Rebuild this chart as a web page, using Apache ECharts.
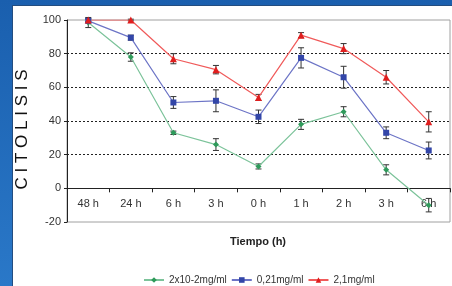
<!DOCTYPE html>
<html>
<head>
<meta charset="utf-8">
<script src="https://cdn.jsdelivr.net/npm/echarts@6/dist/echarts.min.js"></script>
<style>
  html, body { margin: 0; padding: 0; }
  body {
    width: 452px; height: 286px; overflow: hidden; position: relative;
    background: linear-gradient(180deg, #1a5fae 0%, #2a78c8 100%);
  }
  .panel {
    position: absolute; left: 12px; top: 5px; width: 440px; height: 281px;
    background: #fff; border-left: 1px solid #234d80; border-top: 1px solid #234d80;
    box-sizing: border-box;
  }
  #chart { position: absolute; left: 0; top: 0; width: 452px; height: 286px; }
</style>
</head>
<body>
<div class="panel"></div>
<div id="chart"></div>
<script>
// tiempos (ejes)
const categories = ['48 h', '24 h', '6 h', '3 h', '0 h', '1 h', '2 h', '3 h', '6 h']
// citolisis media por concentracion
const verde = [98.5, 78, 33, 26, 13, 38, 45.5, 11, -10]
const azul = [99.5, 89.5, 51, 52, 42.5, 77.5, 66, 33, 22.5]
const rojo = [100, 100, 77, 70.5, 54, 91, 83, 66, 39.5]
// desviaciones
const errVerde = [3, 2.5, 1, 3.5, 1.5, 3, 3, 3, 4]
const errAzul = [1, 1.5, 3.5, 6.5, 4, 6, 6.5, 3.5, 5]
const errRojo = [1, 0.5, 3, 2.5, 1.8, 1.5, 3, 4, 6]

const names = ['2x10-2mg/ml', '0,21mg/ml', '2,1mg/ml']

function errData (vals, errs) {
  return vals.map((v, i) => [i, v - errs[i], v + errs[i]])
}

function errSeries (vals, errs) {
  return {
    type: 'custom',
    silent: true,
    z: 1,
    data: errData(vals, errs),
    renderItem: function (params, api) {
      const x = api.coord([api.value(0), 0])[0]
      const lo = api.coord([api.value(0), api.value(1)])[1]
      const hi = api.coord([api.value(0), api.value(2)])[1]
      const w = 3
      const st = { stroke: '#333', lineWidth: 1 }
      return {
        type: 'group',
        children: [
          { type: 'line', shape: { x1: x, y1: lo, x2: x, y2: hi }, style: st },
          { type: 'line', shape: { x1: x - w, y1: lo, x2: x + w, y2: lo }, style: st },
          { type: 'line', shape: { x1: x - w, y1: hi, x2: x + w, y2: hi }, style: st }
        ]
      }
    }
  }
}

function lineSeries (name, vals, lineColor, markColor, symbol, size) {
  return {
    name: name,
    type: 'line',
    data: vals,
    symbol: symbol,
    symbolSize: size,
    z: 3,
    lineStyle: { color: lineColor, width: 1.2 },
    itemStyle: { color: markColor },
    emphasis: { disabled: true }
  }
}

// altura del grid: 286 - 20 - 64 = 202 px para 120 unidades
const gridH = 202
const yMin = -20
const yMax = 100

const chart = echarts.init(document.getElementById('chart'))
chart.setOption({
  animation: false,
  textStyle: { fontFamily: 'Liberation Sans, Arial, sans-serif' },
  grid: {
    left: 67, right: 2, top: 20, bottom: 64,
    show: true, borderColor: '#a0a0a0', borderWidth: 1, backgroundColor: 'transparent'
  },
  xAxis: {
    type: 'category',
    data: categories,
    boundaryGap: true,
    position: 'bottom',
    // eje en y = 0
    offset: -gridH * (0 - yMin) / (yMax - yMin),
    axisLine: { onZero: false, lineStyle: { color: '#222', width: 1 } },
    axisTick: { show: true, length: 4, inside: false, lineStyle: { color: '#222' } },
    axisLabel: { color: '#333', fontSize: 11, margin: 10 }
  },
  yAxis: {
    type: 'value',
    min: yMin, max: yMax, interval: 20,
    axisLine: { show: true, lineStyle: { color: '#222' } },
    axisTick: { show: true, length: 3, lineStyle: { color: '#222' } },
    axisLabel: { color: '#333', fontSize: 11, margin: 6 },
    splitLine: {
      show: true,
      lineStyle: {
        type: [2, 2],
        color: ['transparent', 'transparent', '#222', '#222', '#222', '#222', 'transparent']
      }
    }
  },
  legend: {
    left: 138, top: 270,
    itemWidth: 20, itemHeight: 7, itemGap: 4,
    textStyle: { fontSize: 10, color: '#333' },
    data: names
  },
  graphic: [
    {
      type: 'text',
      x: 22, y: 129.5,
      rotation: Math.PI / 2,
      style: {
        text: 'C I T O L I S I S',
        font: '17px Liberation Sans, Arial, sans-serif',
        fill: '#111',
        align: 'center',
        verticalAlign: 'middle'
      }
    },
    {
      type: 'text',
      x: 258, y: 242,
      style: {
        text: 'Tiempo (h)',
        font: 'bold 11px Liberation Sans, Arial, sans-serif',
        fill: '#222',
        align: 'center',
        verticalAlign: 'middle'
      }
    }
  ],
  series: [
    errSeries(verde, errVerde),
    errSeries(azul, errAzul),
    errSeries(rojo, errRojo),
    lineSeries(names[0], verde, '#7cc39a', '#2e9a5a', 'diamond', 6),
    lineSeries(names[1], azul, '#6c74c6', '#3346a8', 'rect', 6),
    lineSeries(names[2], rojo, '#f05a5a', '#e01e1e', 'triangle', 7)
  ]
})
</script>
</body>
</html>
